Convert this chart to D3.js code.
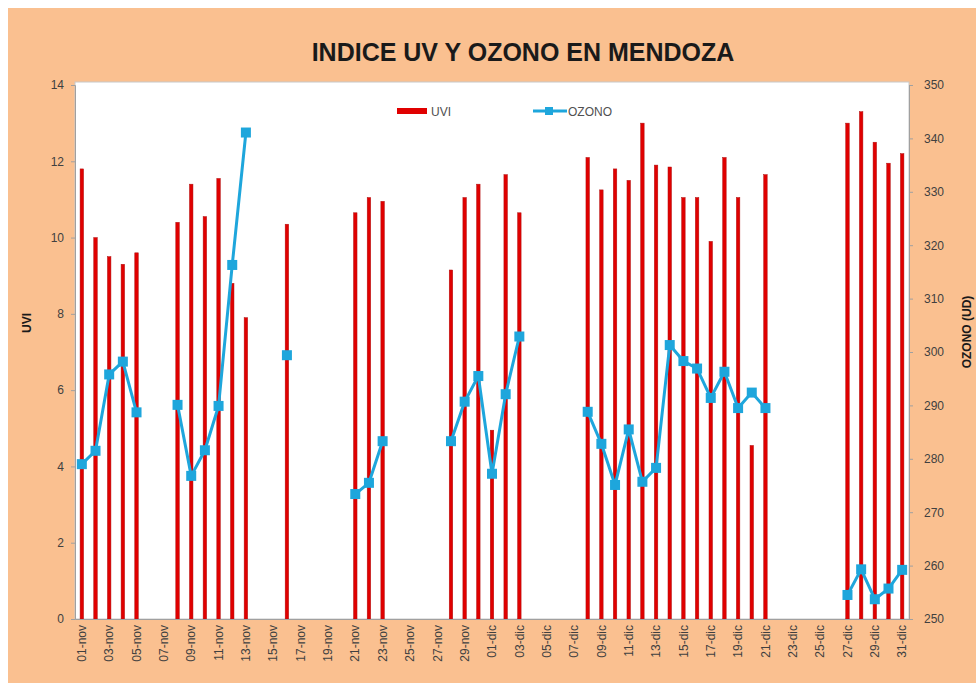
<!DOCTYPE html>
<html>
<head>
<meta charset="utf-8">
<script src="https://cdn.jsdelivr.net/npm/d3@7"></script>
<style>
	body { margin: 0; background: #fff; }
	svg text { font-family: "Liberation Sans", Arial, sans-serif; }
</style>
</head>
<body>
<svg id="chart"></svg>
<script>
const width = 976, height = 683;

// días 01-nov .. 31-dic
const days = [];
for (let d = 1; d <= 30; d++) days.push(String(d).padStart(2, '0') + '-nov');
for (let d = 1; d <= 31; d++) days.push(String(d).padStart(2, '0') + '-dic');

// UVI (null = sin dato)
const uvi = [
	11.8, 10.0, 9.5, 9.3, 9.6, null, null, 10.4, 11.4, 10.55,
	11.55, 8.8, 7.9, null, null, 10.35, null, null, null, null,
	10.65, 11.05, 10.95, null, null, null, null, 9.15, 11.05, 11.4,
	4.95, 11.65, 10.65, null, null, null, null, 12.1, 11.25, 11.8,
	11.5, 13.0, 11.9, 11.85, 11.05, 11.05, 9.9, 12.1, 11.05, 4.55,
	11.65, null, null, null, null, null, 13.0, 13.3, 12.5, 11.95,
	12.2
];

// ozono (UD)
const ozono = [
	279.0, 281.5, 295.8, 298.2, 288.7, null, null, 290.1, 276.8, 281.6,
	289.9, 316.3, 341.1, null, null, 299.4, null, null, null, null,
	273.4, 275.5, 283.3, null, null, null, null, 283.3, 290.7, 295.5,
	277.2, 292.1, 302.9, null, null, null, null, 288.8, 282.8, 275.1,
	285.5, 275.7, 278.3, 301.3, 298.3, 296.9, 291.4, 296.3, 289.5, 292.4,
	289.5, null, null, null, null, null, 254.5, 259.3, 253.7, 255.7,
	259.2
];

const uviTicks = d3.range(0, 15, 2);
const ozonoTicks = d3.range(250, 351, 10);

const margin = { top: 85, right: 67, bottom: 64, left: 75 };
const orange = '#fac090';
const red = '#e00000';
const blue = '#1ea6dc';

const svg = d3.select('#chart').attr('width', width).attr('height', height);

svg.append('rect')
	.attr('x', 8).attr('y', 8)
	.attr('width', width - 8).attr('height', height - 8)
	.attr('fill', orange);

const x = d3.scaleBand().domain(days).range([margin.left, width - margin.right]);
const yL = d3.scaleLinear().domain([0, 14]).range([height - margin.bottom, margin.top]);
const yR = d3.scaleLinear().domain([250, 350]).range([height - margin.bottom, margin.top]);

svg.append('rect')
	.attr('x', margin.left).attr('y', margin.top - 3)
	.attr('width', width - margin.left - margin.right)
	.attr('height', height - margin.top - margin.bottom + 3)
	.attr('fill', '#fff')
	.attr('stroke', '#c8c8c8');

// title
svg.append('text')
	.attr('x', 523).attr('y', 61)
	.attr('text-anchor', 'middle')
	.attr('font-size', 25).attr('font-weight', 'bold')
	.attr('fill', '#1a1a1a')
	.text('INDICE  UV Y OZONO EN MENDOZA');

// bars
const bw = 3.5;
svg.append('g')
	.selectAll('rect')
	.data(days.map((d, i) => ({ day: d, v: uvi[i] })).filter(d => d.v != null))
	.enter()
	.append('rect')
	.attr('x', d => x(d.day) + x.bandwidth() / 2 - bw / 2)
	.attr('y', d => yL(d.v))
	.attr('width', bw)
	.attr('height', d => yL(0) - yL(d.v))
	.attr('fill', red)
	.attr('stroke', '#b01010')
	.attr('stroke-width', 0.5);

// axes
const axisL = svg.append('g')
	.attr('transform', `translate(${margin.left},0)`)
	.call(d3.axisLeft(yL).tickValues(uviTicks).tickSize(4).tickPadding(7));
const axisR = svg.append('g')
	.attr('transform', `translate(${width - margin.right},0)`)
	.call(d3.axisRight(yR).tickValues(ozonoTicks).tickSize(4).tickPadding(11));
const axisB = svg.append('g')
	.attr('transform', `translate(0,${height - margin.bottom})`)
	.call(d3.axisBottom(x).tickValues(days.filter((d, i) => i % 2 === 0)).tickSize(0).tickPadding(0));

for (const g of [axisL, axisR, axisB]) {
	g.select('.domain').attr('stroke', '#a0a0a0');
	g.selectAll('.tick line').attr('stroke', '#a0a0a0');
	g.selectAll('.tick text')
		.attr('font-size', 12)
		.attr('fill', '#404040');
}
axisB.selectAll('.tick text')
	.attr('transform', 'rotate(-90)')
	.attr('text-anchor', 'end')
	.attr('dy', '0.35em')
	.attr('x', -6)
	.attr('y', 0);

// axis titles
svg.append('text')
	.attr('transform', 'translate(31,323) rotate(-90)')
	.attr('text-anchor', 'middle')
	.attr('font-size', 12).attr('font-weight', 'bold')
	.attr('fill', '#1a1a1a')
	.text('UVI');
svg.append('text')
	.attr('transform', 'translate(971,332) rotate(-90)')
	.attr('text-anchor', 'middle')
	.attr('font-size', 12).attr('font-weight', 'bold')
	.attr('fill', '#1a1a1a')
	.text('OZONO (UD)');

// ozone line
const line = d3.line()
	.defined(d => d.v != null)
	.x(d => x(d.day) + x.bandwidth() / 2)
	.y(d => yR(d.v));
const ozData = days.map((d, i) => ({ day: d, v: ozono[i] }));
svg.append('path')
	.datum(ozData)
	.attr('d', line)
	.attr('fill', 'none')
	.attr('stroke', blue)
	.attr('stroke-width', 3)
	.attr('stroke-linejoin', 'round');
const ms = 10;
svg.append('g')
	.selectAll('rect')
	.data(ozData.filter(d => d.v != null))
	.enter()
	.append('rect')
	.attr('x', d => x(d.day) + x.bandwidth() / 2 - ms / 2)
	.attr('y', d => yR(d.v) - ms / 2)
	.attr('width', ms).attr('height', ms)
	.attr('fill', blue);

// legend
const leg = svg.append('g').attr('transform', 'translate(397,111)');
leg.append('rect').attr('x', 0).attr('y', -3).attr('width', 30).attr('height', 6).attr('fill', red);
leg.append('text').attr('x', 34).attr('y', 4.5).attr('font-size', 12).attr('fill', '#505050').text('UVI');
leg.append('line').attr('x1', 136).attr('x2', 170).attr('y1', 0).attr('y2', 0).attr('stroke', blue).attr('stroke-width', 3);
leg.append('rect').attr('x', 148).attr('y', -4).attr('width', 8).attr('height', 8).attr('fill', blue);
leg.append('text').attr('x', 171).attr('y', 4.5).attr('font-size', 12).attr('fill', '#505050').text('OZONO');
</script>
</body>
</html>
